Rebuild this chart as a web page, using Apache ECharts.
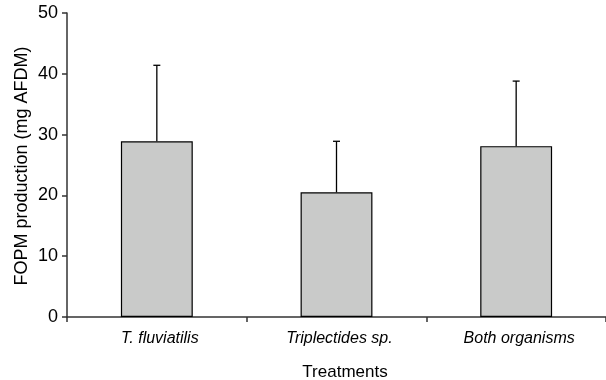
<!DOCTYPE html>
<html>
<head>
<meta charset="utf-8">
<script src="https://cdn.jsdelivr.net/npm/echarts@6/dist/echarts.min.js"></script>
<style>
html,body{margin:0;padding:0;background:#fff;}
#chart{width:606px;height:380px;}
</style>
</head>
<body>
<div id="chart"></div>
<script>
const categories = ['T. fluviatilis', 'Triplectides sp.', 'Both organisms'];
const means = [28.9, 20.5, 28.1];
const sdUpper = [12.5, 8.4, 10.7];
const yTicks = [0, 10, 20, 30, 40, 50];
const yTitle = 'FOPM production (mg AFDM)';
const xTitle = 'Treatments';

const FONT = 'Liberation Sans, Arial, sans-serif';
const chart = echarts.init(document.getElementById('chart'), null, {renderer: 'canvas'});

const errData = means.map((m, i) => [i, m, m + sdUpper[i]]);

chart.setOption({
  animation: false,
  backgroundColor: '#fff',
  grid: {left: 67, right: -1, top: 13, bottom: 63, containLabel: false},
  xAxis: {
    type: 'category',
    data: categories,
    axisLine: {lineStyle: {color: '#333', width: 1.5}},
    axisTick: {show: true, length: 5, lineStyle: {color: '#333', width: 1.5}},
    axisLabel: {color: '#000', fontFamily: FONT, fontSize: 16, fontStyle: 'italic', margin: 14, padding: [0, 0, 0, 6]},
    splitLine: {show: false}
  },
  yAxis: {
    type: 'value',
    min: yTicks[0],
    max: yTicks[yTicks.length - 1],
    interval: yTicks[1] - yTicks[0],
    axisLine: {show: true, lineStyle: {color: '#333', width: 1.5}},
    axisTick: {show: true, length: 5, lineStyle: {color: '#333', width: 1.5}},
    axisLabel: {color: '#000', fontFamily: FONT, fontSize: 18, margin: 9},
    splitLine: {show: false}
  },
  series: [
    {
      type: 'bar',
      data: means,
      barWidth: '40%',
      itemStyle: {color: '#c9cac9', borderColor: '#000', borderWidth: 1.2}
    },
    {
      type: 'custom',
      data: errData,
      z: 1,
      renderItem: function (params, api) {
        const idx = api.value(0);
        const base = api.coord([idx, api.value(1)]);
        const top = api.coord([idx, api.value(2)]);
        const half = 3.5;
        return {
          type: 'group',
          children: [
            {type: 'line', shape: {x1: base[0], y1: base[1], x2: top[0], y2: top[1]}, style: {stroke: '#000', lineWidth: 1.3}},
            {type: 'line', shape: {x1: top[0] - half, y1: top[1], x2: top[0] + half, y2: top[1]}, style: {stroke: '#000', lineWidth: 1.3}}
          ]
        };
      }
    }
  ],
  graphic: [
    {type: 'text', x: 22, y: 166, rotation: Math.PI / 2, style: {text: yTitle, fill: '#000', font: '18px ' + FONT, align: 'center', verticalAlign: 'middle'}},
    {type: 'text', x: 345, y: 372, style: {text: xTitle, fill: '#000', font: '17px ' + FONT, align: 'center', verticalAlign: 'middle'}}
  ]
});
</script>
</body>
</html>
